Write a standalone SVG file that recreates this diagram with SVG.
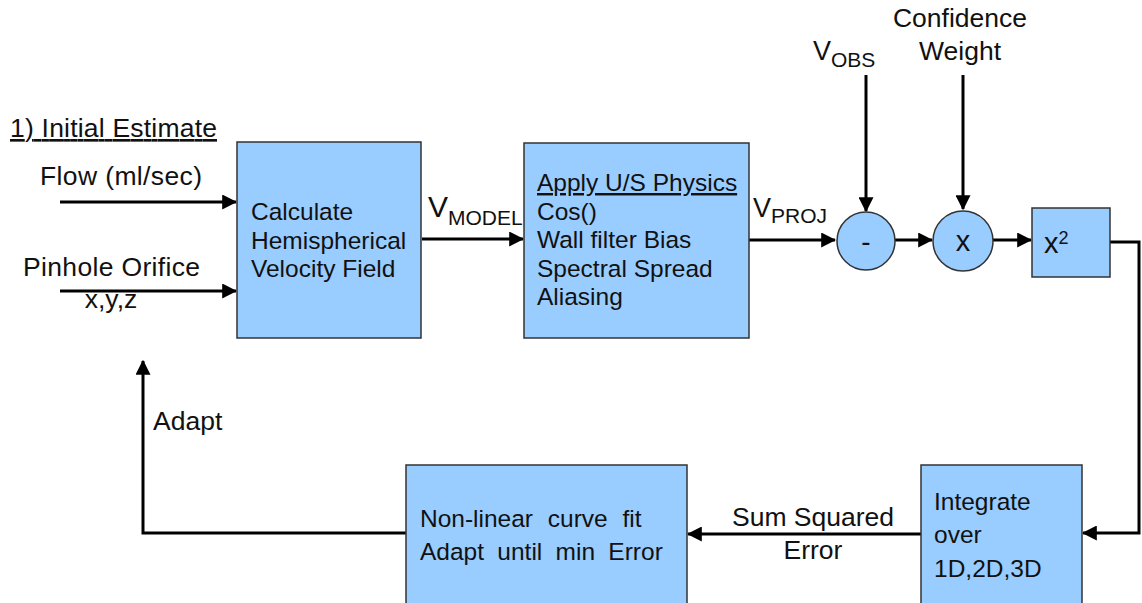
<svg xmlns="http://www.w3.org/2000/svg" width="1142" height="603" viewBox="0 0 1142 603">
<style>
text{font-family:"Liberation Sans",Arial,sans-serif;fill:#111}
.lbl{font-size:26.5px}
.box{fill:#99CCFF;stroke:#333;stroke-width:1.5}
.con{fill:none;stroke:#000;stroke-width:3}
.bt{font-size:24.5px}
</style>
<defs>
<marker id="ah" markerWidth="5" markerHeight="5" refX="4.6" refY="2.5" orient="auto" markerUnits="strokeWidth">
<path d="M0,0 L5,2.5 L0,5 Z" fill="#000"/>
</marker>
</defs>
<rect width="1142" height="603" fill="#fff"/>

<g id="connectors">
<line class="con" x1="60" y1="202" x2="236" y2="202" marker-end="url(#ah)"/>
<line class="con" x1="60" y1="291" x2="236" y2="291" marker-end="url(#ah)"/>
<line class="con" x1="422" y1="239" x2="523" y2="239" marker-end="url(#ah)"/>
<line class="con" x1="749" y1="240" x2="835" y2="240" marker-end="url(#ah)"/>
<line class="con" x1="866" y1="75" x2="866" y2="211" marker-end="url(#ah)"/>
<line class="con" x1="963" y1="75" x2="963" y2="209" marker-end="url(#ah)"/>
<line class="con" x1="895" y1="240" x2="932" y2="240" marker-end="url(#ah)"/>
<line class="con" x1="993" y1="240" x2="1031" y2="240" marker-end="url(#ah)"/>
<polyline class="con" points="1110,242 1139,242 1139,533 1083,533" marker-end="url(#ah)"/>
<line class="con" x1="921" y1="534" x2="688" y2="534" marker-end="url(#ah)"/>
<polyline class="con" points="406,533 143,533 143,361" marker-end="url(#ah)"/>
</g>

<g id="labels">
<text class="lbl" x="10" y="137" textLength="207" text-decoration="underline">1) Initial Estimate</text>
<text class="lbl" x="40" y="185" textLength="162">Flow (ml/sec)</text>
<text class="lbl" x="23" y="276" textLength="177">Pinhole Orifice</text>
<text class="lbl" x="111" y="308" text-anchor="middle">x,y,z</text>
<text x="428" y="217" font-size="30">V<tspan font-size="21" dy="8">MODEL</tspan></text>
<text x="753" y="217" font-size="27">V<tspan font-size="21" dy="6">PROJ</tspan></text>
<text x="813" y="60" font-size="27">V<tspan font-size="21" dy="7">OBS</tspan></text>
<text class="lbl" x="960" y="27" text-anchor="middle">Confidence</text>
<text class="lbl" x="960" y="60" text-anchor="middle">Weight</text>
<text class="lbl" x="153" y="430">Adapt</text>
<text class="lbl" x="813" y="526" text-anchor="middle">Sum Squared</text>
<text class="lbl" x="813" y="559" text-anchor="middle">Error</text>
</g>

<g id="node-calc">
<rect class="box" x="237" y="142" width="184" height="196"/>
<text class="bt" x="251" y="220">Calculate</text>
<text class="bt" x="251" y="249">Hemispherical</text>
<text class="bt" x="251" y="277">Velocity Field</text>
</g>

<g id="node-physics">
<rect class="box" x="524" y="143" width="225" height="195"/>
<text class="bt" x="537" y="191" text-decoration="underline">Apply U/S Physics</text>
<text class="bt" x="537" y="220">Cos()</text>
<text class="bt" x="537" y="248">Wall filter Bias</text>
<text class="bt" x="537" y="277">Spectral Spread</text>
<text class="bt" x="537" y="305">Aliasing</text>
</g>

<g id="node-minus">
<circle class="box" cx="866" cy="241" r="29"/>
<text x="866" y="251" font-size="28" text-anchor="middle">-</text>
</g>

<g id="node-times">
<circle class="box" cx="963" cy="241" r="30"/>
<text x="963" y="251" font-size="29" text-anchor="middle">x</text>
</g>

<g id="node-square">
<rect class="box" x="1032" y="208" width="78" height="69"/>
<text x="1044" y="253" font-size="29">x<tspan font-size="18" dy="-9">2</tspan></text>
</g>

<g id="node-integrate">
<rect class="box" x="921" y="465" width="161" height="140"/>
<text class="bt" x="934" y="510" font-size="25.5">Integrate</text>
<text class="bt" x="934" y="543" font-size="25.5">over</text>
<text class="bt" x="934" y="577" font-size="25.5">1D,2D,3D</text>
</g>

<g id="node-fit">
<rect class="box" x="406" y="465" width="281" height="140"/>
<text class="bt" x="420" y="527" font-size="25" word-spacing="8">Non-linear curve fit</text>
<text class="bt" x="420" y="560" font-size="25" word-spacing="6.5">Adapt until min Error</text>
</g>
</svg>
